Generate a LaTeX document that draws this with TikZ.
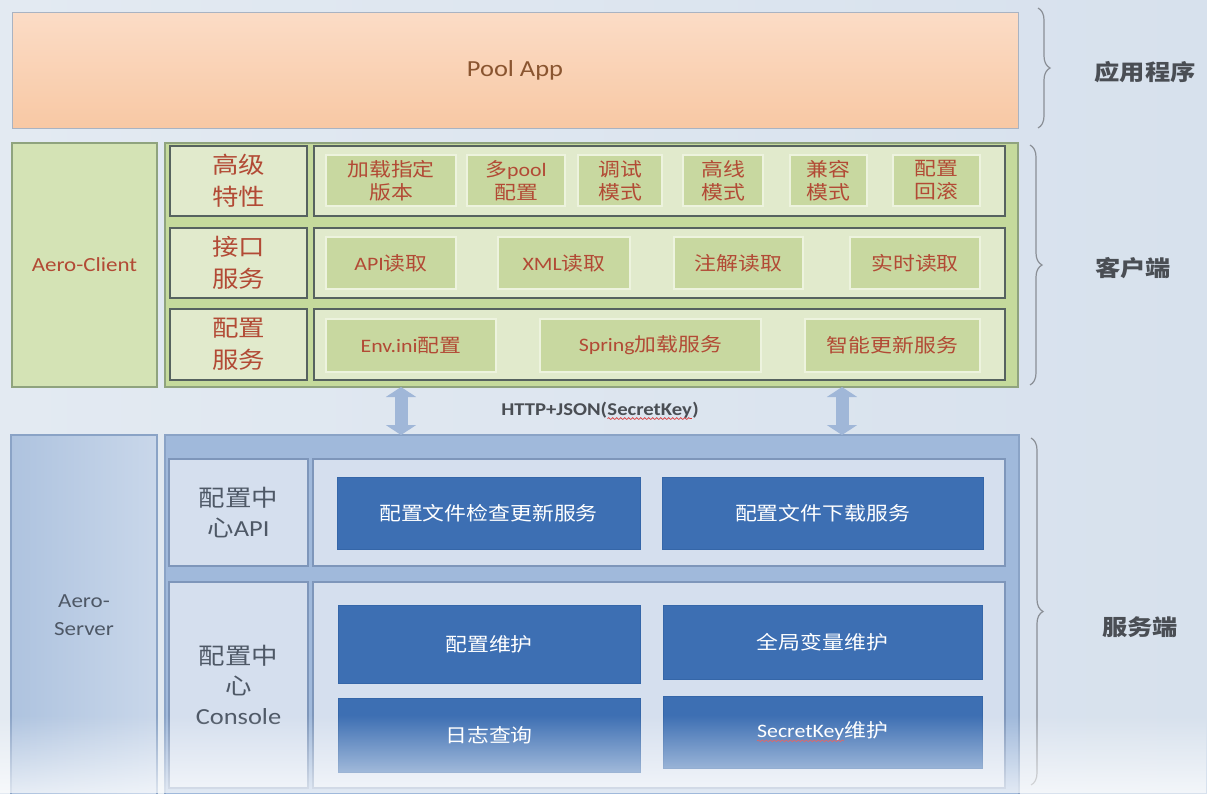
\documentclass[tikz,border=0pt]{standalone}
\usepackage{fontspec}
\setmainfont[FakeStretch=1.15]{Noto Sans CJK SC}
\newfontfamily\en[FakeStretch=1.15]{Carlito}
\usetikzlibrary{arrows.meta,decorations.pathreplacing,decorations.pathmorphing,fadings}

\definecolor{bgl}{HTML}{E3EAF2}
\definecolor{bgr}{HTML}{D7E1ED}
\definecolor{appedge}{HTML}{F8C8A4}
\definecolor{appmid}{HTML}{FBDCC6}
\definecolor{appborder}{HTML}{A9B3C2}
\definecolor{apptext}{HTML}{8A5530}
\definecolor{clifill}{HTML}{C5DA9C}
\definecolor{cliborder}{HTML}{8FA37E}
\definecolor{clisidefill}{HTML}{D4E3B5}
\definecolor{clirowfill}{HTML}{E1EACC}
\definecolor{clirowborder}{HTML}{56625F}
\definecolor{cliitemfill}{HTML}{C8D8A0}
\definecolor{cliitemborder}{HTML}{EDF3DE}
\definecolor{clitext}{HTML}{B24A35}
\definecolor{srvfill}{HTML}{A0B9DB}
\definecolor{srvborder}{HTML}{8AA3C6}
\definecolor{srvsidel}{HTML}{AEC3DF}
\definecolor{srvsider}{HTML}{C9D7EA}
\definecolor{srvrowfill}{HTML}{D5DFEE}
\definecolor{srvrowborder}{HTML}{7E96BA}
\definecolor{srvitemfill}{HTML}{3D6FB3}
\definecolor{srvitemborder}{HTML}{3566A8}
\definecolor{srvtext}{HTML}{4E5866}
\definecolor{arrowblue}{HTML}{A0B7D8}
\definecolor{bracegray}{HTML}{8A8F96}
\definecolor{sidetext}{HTML}{4A4E54}
\definecolor{wavered}{HTML}{D83A3A}

\newcommand\spellerr[1]{\tikz[baseline=(sk.base),x=1cm,y=1cm]{\node[draw=none,fill=none,inner sep=0pt,outer sep=0pt,minimum width=0pt,minimum height=0pt,anchor=center] (sk) {#1};
  \draw[wavered,line width=.7pt,decorate,decoration={snake,amplitude=.9pt,segment length=4pt}] ([yshift=-3pt]sk.base west) -- ([yshift=-3pt]sk.base east);}}

\begin{document}
\begin{tikzpicture}[x=1pt,y=-1pt,
  box/.style={anchor=north west,inner sep=0pt,outer sep=0pt,align=center},
  appbox/.style={box,draw=appborder,line width=1pt,top color=appmid,bottom color=appedge,text=apptext,font=\en\fontsize{23}{27}\selectfont},
  cliside/.style={box,draw=cliborder,line width=1.2pt,fill=clisidefill,text=clitext,font=\en\fontsize{20}{24}\selectfont},
  cliouter/.style={box,draw=cliborder,line width=1.2pt,fill=clifill},
  clirow/.style={box,draw=clirowborder,line width=1.5pt,fill=clirowfill,text=clitext,font=\fontsize{23}{32}\selectfont},
  cliitem/.style={box,draw=cliitemborder,line width=1.5pt,fill=cliitemfill,text=clitext,font=\fontsize{19}{23}\selectfont},
  srvside/.style={box,draw=srvborder,line width=1.2pt,left color=srvsidel,right color=srvsider,text=srvtext,font=\en\fontsize{20}{28}\selectfont},
  srvouter/.style={box,draw=srvborder,line width=1.2pt,fill=srvfill},
  srvrow/.style={box,draw=srvrowborder,line width=1.5pt,fill=srvrowfill,text=srvtext,font=\fontsize{23}{30}\selectfont},
  srvitem/.style={box,draw=srvitemborder,line width=1pt,fill=srvitemfill,text=white,font=\fontsize{19}{23}\selectfont},
  sidebrace/.style={draw=bracegray,line width=1.2pt,decorate,decoration={brace,amplitude=12pt}},
  sidelabel/.style={text=sidetext,font=\bfseries\fontsize{22}{26}\selectfont},
  fatarrow/.style={draw=arrowblue,line width=13pt,{Triangle[length=10pt,width=30pt]}-{Triangle[length=10pt,width=30pt]}}]

\useasboundingbox (0,0) rectangle (1207,793);
\fill[left color=bgl,right color=bgr] (0,0) rectangle (1207,793);

\node[appbox,minimum width=1006pt,minimum height=116pt] (app) at (12,12) {Pool App};

\node[cliside,minimum width=145pt,minimum height=244pt] (acli) at (12,143) {Aero-Client};
\node[cliouter,minimum width=853pt,minimum height=244pt] (cli) at (165,143) {};

\node[clirow,minimum width=137pt,minimum height=70pt] (advl) at (170,146) {高级\\特性};
\node[clirow,minimum width=691pt,minimum height=70pt] (advc) at (314,146) {};
\node[cliitem,minimum width=130pt,minimum height=51pt] (adv1) at (326,155) {加载指定\\版本};
\node[cliitem,minimum width=98pt,minimum height=51pt] (adv2) at (467,155) {多{\en pool}\\配置};
\node[cliitem,minimum width=84pt,minimum height=51pt] (adv3) at (578,155) {调试\\模式};
\node[cliitem,minimum width=80pt,minimum height=51pt] (adv4) at (683,155) {高线\\模式};
\node[cliitem,minimum width=77pt,minimum height=51pt] (adv5) at (790,155) {兼容\\模式};
\node[cliitem,minimum width=87pt,minimum height=51pt] (adv6) at (893,155) {配置\\回滚};

\node[clirow,minimum width=137pt,minimum height=70pt] (ifl) at (170,228) {接口\\服务};
\node[clirow,minimum width=691pt,minimum height=70pt] (ifc) at (314,228) {};
\node[cliitem,minimum width=130pt,minimum height=52pt] (if1) at (326,237) {{\en API}读取};
\node[cliitem,minimum width=132pt,minimum height=52pt] (if2) at (498,237) {{\en XML}读取};
\node[cliitem,minimum width=129pt,minimum height=52pt] (if3) at (674,237) {注解读取};
\node[cliitem,minimum width=130pt,minimum height=52pt] (if4) at (850,237) {实时读取};

\node[clirow,minimum width=137pt,minimum height=71pt] (cfgl) at (170,309) {配置\\服务};
\node[clirow,minimum width=691pt,minimum height=71pt] (cfgc) at (314,309) {};
\node[cliitem,minimum width=170pt,minimum height=53pt] (cfg1) at (326,319) {{\en Env.ini}配置};
\node[cliitem,minimum width=221pt,minimum height=53pt] (cfg2) at (540,319) {{\en Spring}加载服务};
\node[cliitem,minimum width=175pt,minimum height=53pt] (cfg3) at (805,319) {智能更新服务};

\node[srvside,minimum width=146pt,minimum height=360pt] (asrv) at (11,435) {Aero-\\Server};
\node[srvouter,minimum width=854pt,minimum height=360pt] (srv) at (165,435) {};

\node[srvrow,minimum width=139pt,minimum height=107pt] (apil) at (169,459) {配置中\\心{\en API}};
\node[srvrow,minimum width=692pt,minimum height=107pt] (apic) at (313,459) {};
\node[srvitem,minimum width=303pt,minimum height=72pt] (api1) at (337,477) {配置文件检查更新服务};
\node[srvitem,minimum width=321pt,minimum height=72pt] (api2) at (662,477) {配置文件下载服务};

\node[srvrow,minimum width=139pt,minimum height=206pt] (conl) at (169,582) {配置中\\心\\{\en Console}};
\node[srvrow,minimum width=692pt,minimum height=206pt] (conc) at (313,582) {};
\node[srvitem,minimum width=302pt,minimum height=78pt] (con1) at (338,605) {配置维护};
\node[srvitem,minimum width=319pt,minimum height=74pt] (con2) at (663,605) {全局变量维护};
\node[srvitem,minimum width=302pt,minimum height=74pt] (con3) at (338,698) {日志查询};
\node[srvitem,minimum width=319pt,minimum height=72pt] (con4) at (663,696) {{\en\spellerr{SecretKey}}维护};

\coordinate (ax1) at (401,0);
\coordinate (ax2) at (842,0);
\draw[fatarrow] (cli.south -| ax1) -- (srv.north -| ax1);
\draw[fatarrow] (cli.south -| ax2) -- (srv.north -| ax2);
\node[text=sidetext,font=\en\bfseries\fontsize{18}{21}\selectfont] (http) at (600,411) {HTTP+JSON(\spellerr{SecretKey})};

\draw[sidebrace] ([xshift=20pt,yshift=4pt]app.north east) -- ([xshift=20pt]app.south east);
\draw[sidebrace] ([xshift=12pt,yshift=-2pt]cli.north east) -- ([xshift=12pt,yshift=2pt]cli.south east);
\draw[sidebrace] ([xshift=12pt,yshift=-3pt]srv.north east) -- ([xshift=12pt,yshift=10pt]srv.south east);

\node[sidelabel] (lapp) at (1145,72) {应用程序};
\node[sidelabel] (lcli) at (1133,268) {客户端};
\node[sidelabel] (lsrv) at (1140,627) {服务端};

\fill[white,path fading=north,opacity=.7] (0,715) rectangle (1207,793);

\end{tikzpicture}
\end{document}
